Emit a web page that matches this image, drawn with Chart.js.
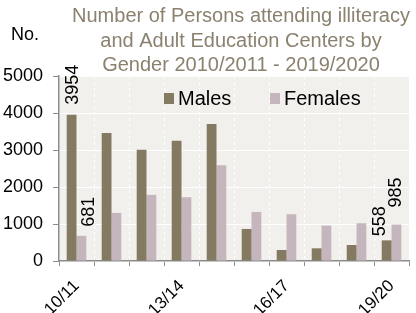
<!DOCTYPE html>
<html>
<head>
<meta charset="utf-8">
<script src="https://cdn.jsdelivr.net/npm/chart.js@4/dist/chart.umd.min.js"></script>
<style>
html,body{margin:0;padding:0;background:#fff}
canvas{display:block}
</style>
</head>
<body>
<canvas id="c" width="416" height="313"></canvas>
<script>
// data
const years=['10/11','11/12','12/13','13/14','14/15','15/16','16/17','17/18','18/19','19/20']
const males=[3954,3457,3005,3249,3700,866,298,343,433,558]
const females=[681,1300,1787,1724,2590,1327,1264,957,1020,985]
const titleLines=['Number of Persons attending illiteracy','and Adult Education Centers by','Gender 2010/2011 - 2019/2020']

const maleColor='#847a61'
const femaleColor='#c5b5bc'
const axisColor='#8c8c8c'

// labels only on first and last season, with small nudges like the original
const valueLabels=[
  {ds:0,i:0,dx:1,gap:10},
  {ds:1,i:0,dx:8,gap:9},
  {ds:0,i:9,dx:-7,gap:4},
  {ds:1,i:9,dx:0,gap:17}
]

const decor={
  id:'decor',
  beforeDraw(chart){
    const {ctx,chartArea:a}=chart
    ctx.save()
    ctx.fillStyle='#f2f0ec'
    ctx.fillRect(a.left,a.top,a.right-a.left,a.bottom-a.top)
    ctx.restore()
  },
  afterDraw(chart){
    const ctx=chart.ctx
    ctx.save()
    ctx.font='20px "Liberation Sans", Arial, sans-serif'
    ctx.fillStyle='#8b816f'
    ctx.textAlign='center'
    ctx.textBaseline='alphabetic'
    titleLines.forEach((t,k)=>ctx.fillText(t,241,22+k*24.5))
    ctx.fillStyle='#000'
    ctx.textAlign='left'
    ctx.font='18px "Liberation Sans", Arial, sans-serif'
    ctx.fillText('No.',11,40)
    // legend
    ctx.font='20px "Liberation Sans", Arial, sans-serif'
    ctx.fillStyle=maleColor
    ctx.fillRect(164,93,10,11)
    ctx.fillStyle=femaleColor
    ctx.fillRect(270,93,10,11)
    ctx.fillStyle='#000'
    ctx.fillText('Males',178,105)
    ctx.fillText('Females',284,105)
    ctx.restore()
  },
  afterDatasetsDraw(chart){
    const ctx=chart.ctx
    ctx.save()
    ctx.font='18px "Liberation Sans", Arial, sans-serif'
    ctx.fillStyle='#000'
    ctx.textAlign='left'
    ctx.textBaseline='middle'
    valueLabels.forEach(l=>{
      const bar=chart.getDatasetMeta(l.ds).data[l.i]
      const v=chart.data.datasets[l.ds].data[l.i]
      ctx.save()
      ctx.translate(bar.x+l.dx,bar.y-l.gap)
      ctx.rotate(-Math.PI/2)
      ctx.fillText(String(v),0,0)
      ctx.restore()
    })
    ctx.restore()
  }
}

new Chart(document.getElementById('c'),{
  type:'bar',
  data:{
    labels:years,
    datasets:[
      {label:'Males',data:males,backgroundColor:maleColor,barPercentage:1,categoryPercentage:0.56},
      {label:'Females',data:females,backgroundColor:femaleColor,barPercentage:1,categoryPercentage:0.56}
    ]
  },
  options:{
    responsive:false,
    animation:false,
    layout:{padding:{top:76,left:0,right:1,bottom:0}},
    plugins:{legend:{display:false},title:{display:false},tooltip:{enabled:false}},
    scales:{
      x:{
        afterFit(s){s.height=52},
        grid:{color:'#ffffff',tickColor:axisColor,tickLength:5,lineWidth:1,offset:true},
        border:{color:axisColor,width:1.5,dash:[3,3]},
        ticks:{
          color:'#000',autoSkip:false,maxRotation:45,minRotation:45,padding:10,
          font:{family:'"Liberation Sans", Arial, sans-serif',size:17},
          callback(v,i){return i%3===0?years[i]:''}
        }
      },
      y:{
        min:0,max:5000,
        afterFit(s){s.width=59},
        grid:{color:'#ffffff',tickColor:axisColor,tickLength:6,lineWidth:1},
        border:{color:axisColor,width:1.5},
        ticks:{
          stepSize:1000,color:'#000',padding:10,
          font:{family:'"Liberation Sans", Arial, sans-serif',size:18},
          callback(v){return String(v)}
        }
      }
    }
  },
  plugins:[decor]
})
</script>
</body>
</html>
